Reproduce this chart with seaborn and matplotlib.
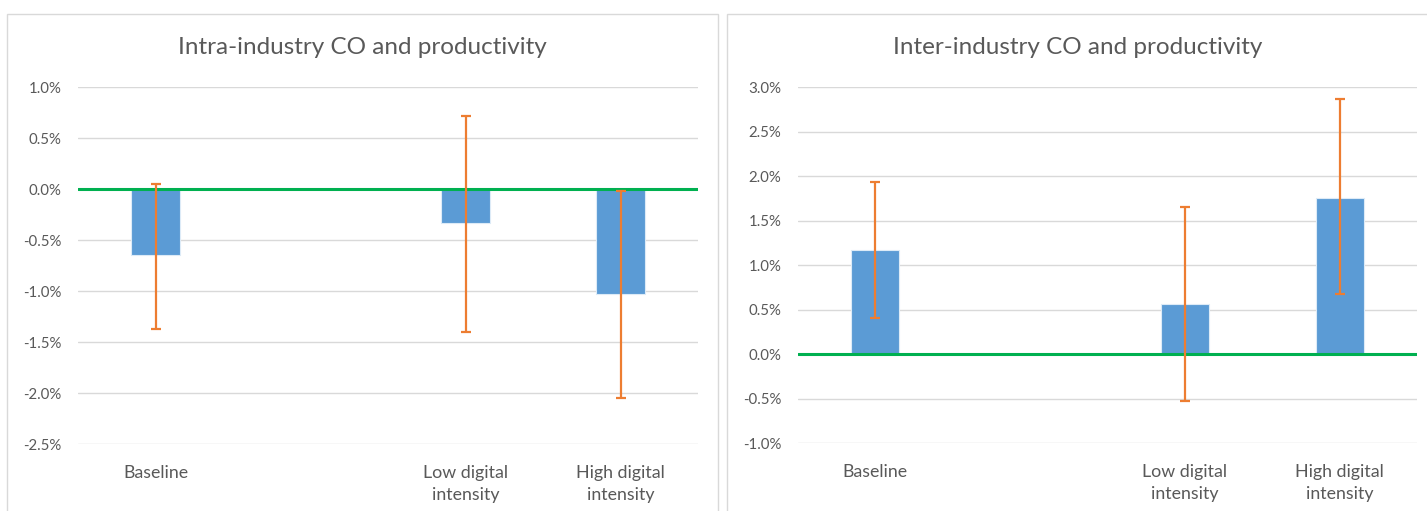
import matplotlib
matplotlib.use("Agg")
import matplotlib.pyplot as plt
import seaborn as sns
import pandas as pd
from matplotlib.ticker import FuncFormatter, MultipleLocator
from matplotlib.patches import Rectangle

# ---- data ----
categories = ["Baseline", " ", "Low digital\nintensity", "High digital\nintensity"]
bar_cats = ["Baseline", "Low digital\nintensity", "High digital\nintensity"]

intra_title = "Intra-industry CO and productivity"
intra_vals = [-0.0065, -0.0033, -0.0103]
intra_low = [-0.0137, -0.0140, -0.0205]
intra_high = [0.0005, 0.0072, -0.0002]

inter_title = "Inter-industry CO and productivity"
inter_vals = [0.0117, 0.0056, 0.0175]
inter_low = [0.0040, -0.0053, 0.0067]
inter_high = [0.0193, 0.0165, 0.0287]

BAR = "#5B9BD5"
ERR = "#ED7D31"
GREEN = "#00B050"
GRID = "#D9D9D9"
TXT = "#595959"

sns.set_theme(style="white")
plt.rcParams["font.family"] = ["Lato", "DejaVu Sans"]

W, H = 1427, 511
fig = plt.figure(figsize=(W / 100, H / 100), dpi=100)
fig.patch.set_facecolor("white")

def fx(px):
    return px / W

def fy(py):
    return 1 - py / H

# panel borders
for x0, x1 in [(7, 718), (727, 1430)]:
    fig.patches.append(Rectangle((fx(x0), fy(515)), fx(x1 - x0), fy(14) - fy(515),
                                 transform=fig.transFigure, fill=False,
                                 edgecolor=GRID, linewidth=1.0))

def pct(v, pos):
    s = f"{v * 100:.1f}%"
    if s == "-0.0%":
        s = "0.0%"
    return s

def panel(rect, title, title_x, vals, lows, highs, ylim):
    ax = fig.add_axes(rect)
    df = pd.DataFrame({"cat": bar_cats, "val": vals})
    sns.barplot(data=df, x="cat", y="val", order=categories, color=BAR,
                width=0.31, edgecolor="#DDEBF7", linewidth=0.8,
                errorbar=None, ax=ax, zorder=2, saturation=1)
    xs = [categories.index(c) for c in bar_cats]
    yerr = [[v - lo for v, lo in zip(vals, lows)], [hi - v for v, hi in zip(vals, highs)]]
    ax.errorbar(xs, vals, yerr=yerr, fmt="none", ecolor=ERR, elinewidth=1.6,
                capsize=3.5, capthick=1.6, zorder=4)
    ax.axhline(0, color=GREEN, linewidth=2.2, zorder=3)
    ax.set_xlim(-0.5, 3.5)
    ax.set_ylim(*ylim)
    ax.yaxis.set_major_locator(MultipleLocator(0.005))
    ax.yaxis.set_major_formatter(FuncFormatter(pct))
    ax.grid(axis="y", color=GRID, linewidth=1.0, zorder=0)
    ax.set_axisbelow(True)
    for s in ax.spines.values():
        s.set_visible(False)
    ax.tick_params(axis="both", length=0, labelcolor=TXT)
    ax.tick_params(axis="y", pad=12, labelsize=10.8)
    ax.tick_params(axis="x", pad=15, labelsize=12.8)
    for lab in ax.get_xticklabels():
        lab.set_linespacing(1.5)
    ax.set_xlabel("")
    ax.set_ylabel("")
    fig.text(fx(title_x), fy(47), title, ha="center", va="center",
             fontsize=17.5, color=TXT)
    return ax

panel([fx(78), fy(444), fx(620), fy(87) - fy(444)], intra_title, 362,
      intra_vals, intra_low, intra_high, (-0.025, 0.010))
panel([fx(798), fy(443), fx(619), fy(87) - fy(443)], inter_title, 1078,
      inter_vals, inter_low, inter_high, (-0.010, 0.030))

fig.savefig("out.png", dpi=100, facecolor="white")
